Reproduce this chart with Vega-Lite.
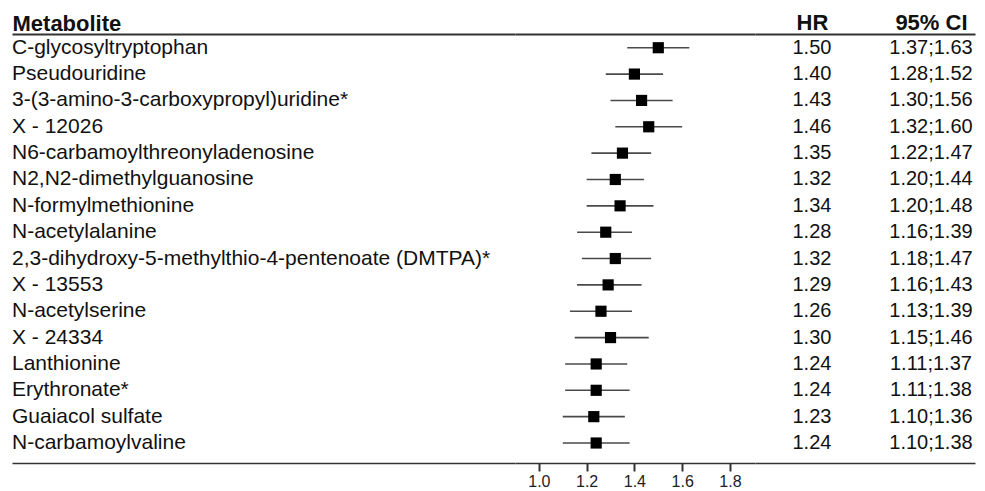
{
  "$schema": "https://vega.github.io/schema/vega-lite/v6.json",
  "autosize": {"type": "pad"},
  "padding": {"left": 12, "top": 11, "right": 10, "bottom": 2},
  "bounds": "flush",
  "spacing": 0,
  "config": {
    "font": "Liberation Sans",
    "view": {"stroke": null},
    "axis": {"domainColor": "#333333", "domainWidth": 2, "grid": false}
  },
  "data": {
    "values": [
      {"metabolite": "C-glycosyltryptophan", "hr": 1.50, "lo": 1.37, "hi": 1.63},
      {"metabolite": "Pseudouridine", "hr": 1.40, "lo": 1.28, "hi": 1.52},
      {"metabolite": "3-(3-amino-3-carboxypropyl)uridine*", "hr": 1.43, "lo": 1.30, "hi": 1.56},
      {"metabolite": "X - 12026", "hr": 1.46, "lo": 1.32, "hi": 1.60},
      {"metabolite": "N6-carbamoylthreonyladenosine", "hr": 1.35, "lo": 1.22, "hi": 1.47},
      {"metabolite": "N2,N2-dimethylguanosine", "hr": 1.32, "lo": 1.20, "hi": 1.44},
      {"metabolite": "N-formylmethionine", "hr": 1.34, "lo": 1.20, "hi": 1.48},
      {"metabolite": "N-acetylalanine", "hr": 1.28, "lo": 1.16, "hi": 1.39},
      {"metabolite": "2,3-dihydroxy-5-methylthio-4-pentenoate (DMTPA)*", "hr": 1.32, "lo": 1.18, "hi": 1.47},
      {"metabolite": "X - 13553", "hr": 1.29, "lo": 1.16, "hi": 1.43},
      {"metabolite": "N-acetylserine", "hr": 1.26, "lo": 1.13, "hi": 1.39},
      {"metabolite": "X - 24334", "hr": 1.30, "lo": 1.15, "hi": 1.46},
      {"metabolite": "Lanthionine", "hr": 1.24, "lo": 1.11, "hi": 1.37},
      {"metabolite": "Erythronate*", "hr": 1.24, "lo": 1.11, "hi": 1.38},
      {"metabolite": "Guaiacol sulfate", "hr": 1.23, "lo": 1.10, "hi": 1.36},
      {"metabolite": "N-carbamoylvaline", "hr": 1.24, "lo": 1.10, "hi": 1.38}
    ]
  },
  "hconcat": [
    {
      "width": 503,
      "height": 429,
      "resolve": {"axis": {"x": "independent"}},
      "layer": [
        {
          "mark": {"type": "text", "align": "left", "baseline": "middle", "fontSize": 21, "color": "#111111"},
          "encoding": {
            "x": {"datum": 0, "type": "quantitative", "scale": {"domain": [0, 1], "nice": false},
                  "axis": {"orient": "top", "labels": false, "ticks": false, "title": "Metabolite",
                           "titleAnchor": "start", "titleAlign": "left", "titleBaseline": "alphabetic",
                           "titleFontSize": 22, "titleFontWeight": "bold", "titleColor": "#111111", "titlePadding": 4}},
            "y": {"field": "metabolite", "type": "nominal", "sort": null,
                  "scale": {"type": "band", "paddingInner": 0, "paddingOuter": 0.14, "align": 0.075}, "axis": null},
            "text": {"field": "metabolite"}
          }
        },
        {
          "mark": {"type": "text", "opacity": 0},
          "encoding": {
            "x": {"datum": 0, "type": "quantitative",
                  "axis": {"orient": "bottom", "labels": false, "ticks": false, "title": null, "domainWidth": 1.6}},
            "text": {"value": ""}
          }
        }
      ]
    },
    {
      "width": 240,
      "height": 429,
      "resolve": {"scale": {"x": "independent"}, "axis": {"x": "independent"}},
      "layer": [
        {
          "mark": {"type": "rule", "color": "#4a4a4a", "strokeWidth": 1.6},
          "encoding": {
            "x": {"field": "lo", "type": "quantitative", "scale": {"domain": [0.9, 1.905], "nice": false, "zero": false},
                  "axis": {"orient": "top", "labels": false, "ticks": false, "title": null}},
            "x2": {"field": "hi"},
            "y": {"field": "metabolite", "type": "nominal", "sort": null,
                  "scale": {"type": "band", "paddingInner": 0, "paddingOuter": 0.14, "align": 0.075}, "axis": null}
          }
        },
        {
          "mark": {"type": "point", "shape": "square", "filled": true, "color": "#000000", "size": 125, "opacity": 1},
          "encoding": {
            "x": {"field": "hr", "type": "quantitative", "scale": {"domain": [0.9, 1.905], "nice": false, "zero": false},
                  "axis": {"orient": "bottom", "values": [1.0, 1.2, 1.4, 1.6, 1.8], "format": ".1f", "title": null,
                           "ticks": true, "tickSize": 8, "tickWidth": 2, "tickColor": "#333333", "tickOpacity": 1,
                           "labels": true, "labelFontSize": 16, "labelColor": "#222222", "labelPadding": 2,
                           "domainWidth": 1.6}},
            "y": {"field": "metabolite", "type": "nominal", "sort": null}
          }
        }
      ]
    },
    {
      "width": 220,
      "height": 429,
      "transform": [
        {"calculate": "format(datum.hr, '.2f')", "as": "HR"},
        {"calculate": "format(datum.lo, '.2f') + ';' + format(datum.hi, '.2f')", "as": "95% CI"},
        {"fold": ["HR", "95% CI"], "as": ["column", "value"]}
      ],
      "resolve": {"axis": {"x": "independent"}},
      "layer": [
        {
          "mark": {"type": "text", "align": "center", "baseline": "middle", "fontSize": 20, "color": "#111111"},
          "encoding": {
            "x": {"field": "column", "type": "nominal",
                  "scale": {"type": "point", "domain": ["HR", "95% CI"], "padding": 0.4244, "align": 0.564},
                  "axis": {"orient": "top", "title": null, "ticks": false, "tickSize": 0, "labelAngle": 0,
                           "labelFontSize": 22, "labelFontWeight": "bold", "labelColor": "#111111",
                           "labelBaseline": "alphabetic", "labelPadding": 5}},
            "y": {"field": "metabolite", "type": "nominal", "sort": null,
                  "scale": {"type": "band", "paddingInner": 0, "paddingOuter": 0.14, "align": 0.075}, "axis": null},
            "text": {"field": "value"}
          }
        },
        {
          "mark": {"type": "text", "opacity": 0},
          "encoding": {
            "x": {"field": "column", "type": "nominal",
                  "axis": {"orient": "bottom", "title": null, "labels": false, "ticks": false, "domainWidth": 1.6}},
            "text": {"value": ""}
          }
        }
      ]
    }
  ]
}
